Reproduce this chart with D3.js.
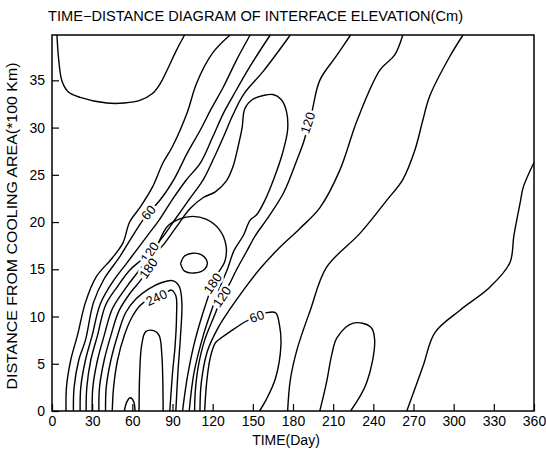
<!DOCTYPE html>
<html>
<head>
<script src="https://d3js.org/d3.v7.min.js"></script>
<style>
  body { margin: 0; background: #fff; }
  text { font-family: "Liberation Sans", Arial, sans-serif; fill: #000; }
</style>
</head>
<body>
<div id="chart"></div>
<script>
// axis ticks
const timeTicks = [0, 30, 60, 90, 120, 150, 180, 210, 240, 270, 300, 330, 360];
const distTicks = [0, 5, 10, 15, 20, 25, 30, 35];

// contour lines as [day, distance]
const cornerLine = [[3.7,39.8],[5,37.2],[7.5,34.9],[12,33.8],[21,33.2],[41,32.6],[54,32.6],[66,32.9],[75,33.6],[81,34.7],[86,36.1],[93,38.2],[99,39.8]];

const level30 = [
  [[10.5,0],[10.8,2.5],[14,5.4],[19,8],[25,11.5],[33,14.2],[45,16.2],[53,17.8],[58,20],[66,21.6],[75,23.7],[83,26.3],[90,28],[101,31.6],[108,34.7],[120,37.9],[133,39.8]],
  [[360,26.3],[352,23.7],[350,22.3],[345,18.6],[342,15.7],[327,13.1],[305,10.7],[286,8.3],[277,4.7],[265,0]]
];
const level60 = [
  [[16,0],[16.5,2.5],[20,5.4],[25,7.5],[31,11.5],[39,14],[50,16.2],[57,17.8],[65,19.6],[72,21],[80,22.2],[91,24.5],[101,27.3],[111,29.8],[119,32],[128,34.3],[138,37.2],[148,39.8]],
  [[307,39.8],[297,37.5],[282,33.3],[277,30.8],[271,27.6],[262,24.5],[250,22.3],[230,18.8],[205,15.2],[193,10.7],[183,6.5],[178,3.3],[176,0]],
  [[114,0],[115.5,3],[118,5.5],[122,7.2],[127,7.8],[133,8.4],[145,9.5],[153,10],[160,10.4],[167,10.4],[170,9],[171,7],[167,3.5],[160,1.2],[155,0]],
  [[200,0],[205,3],[209,6],[213,7.8],[225,9.3],[238,8.9],[241,7.5],[235,3],[223,0]]
];
const level90 = [
  [[21,0],[21.5,2.5],[25,5.4],[30,8],[36,11.3],[45,13.6],[55,15.5],[63,17],[72,18.7],[80,20.2],[90,22.4],[100,24.4],[111,26.3],[120,29],[128,31.5],[135,33.3],[148,36.5],[163,39.8]],
  [[262,39.8],[256,37.7],[245,36.1],[228,30.8],[215,25.5],[200,21.5],[185,19.3],[170,17.3],[155,15],[143,12.8],[133,10.8],[124,8.8],[116,6.3],[111.5,3],[110.5,0]]
];
const level120 = [
  [[25.5,0],[26,2.5],[29,5.4],[34,8],[40,11.2],[49,13.2],[58,14.9],[66,15.9],[73,16.8],[82,18.3],[92,20.3],[103,22.5],[113,24.5],[121,26.8],[128,29],[135,31.3],[143,33.5],[158,36],[178,39.8]],
  [[223,39.8],[212,37.5],[200,35],[194,31.6],[188,28.5],[183,26.6],[173,23.1],[160,20.2],[152,18.6],[145,16.8],[138,15],[132,13.3],[127,12.1],[121,10],[114,7.5],[109,4.5],[107,2],[106.5,0]]
];
const level150 = [
  [[30,0],[30.5,2.5],[34,5.4],[39,8],[45,10.8],[54,12.8],[63,14.5],[72,16],[82,17.4],[92,19.3],[103,21.4],[113,22.6],[122,23.2],[130,24.3],[135,25.8],[139,28],[142,30],[144,32],[150,33],[158,33.4],[165,33.5],[171,33],[175,31.8],[176,29.8],[172,27.2],[166,24.7],[159,22.3],[153,20.8],[148,20.2],[143,18.6],[136,17],[131,15],[126,13.3],[120,11],[113,8],[106,4],[102.5,0]]
];
const level180 = [
  [[35,0],[35.5,2.5],[39,5.4],[44,8],[50,10.6],[59,12.6],[66,13.8],[72,15.1],[79,17.6],[86,19.5],[95,20.3],[105,20.6],[115,20.3],[125,19.2],[130,17.5],[129,15.8],[124,14.6],[120,13.4],[113,10.5],[106,7],[101,3.5],[97.5,0]]
];
const level210 = [
  [[40,0],[40.5,2.5],[44,5.4],[49,8],[55,10.4],[63,11.9],[72,12.9],[82,13.6],[90,13.8],[95,13.2],[97,11.5],[96,8],[94,4],[92.5,0]],
  [[96,15.6],[99,16.4],[105,16.7],[112,16.5],[116,15.7],[114,15],[106,14.6],[99,14.8],[96,15.6]]
];
const level240 = [
  [[45,0],[46,2.5],[49,5.4],[54,8],[60,10],[66,11.2],[72,11.8],[84,12.4],[89,12.8],[92.5,12.2],[93,10],[92,7],[90,4],[88,0]]
];
const level270 = [
  [[65,0],[65.5,4],[67,7],[70,8.4],[76,8.5],[80,8],[82,6],[83,0]],
  [[54,0],[56,1],[58.5,1.4],[61,1],[62,0]]
];

// labels on the lines: text, day, distance, angle
const contourLabels = [
  ["60", 72, 21, -50], ["120", 73, 16.8, -55], ["180", 72, 15.1, -55], ["240", 78, 12, -25],
  ["180", 120, 13.5, -55], ["120", 127, 12.1, -55], ["60", 153, 10, -20], ["120", 191, 30.5, -72]
];

const W = 546, H = 450;
const margin = { top: 35, right: 12, bottom: 39, left: 52 };

const svg = d3.select("#chart").append("svg")
  .attr("width", W).attr("height", H);

const x = d3.scaleLinear().domain([0, 360]).range([margin.left, W - margin.right]);
const y = d3.scaleLinear().domain([0, 39.8]).range([H - margin.bottom, margin.top]);

// title
svg.append("text")
  .attr("x", 48).attr("y", 21)
  .attr("font-size", 14)
  .attr("textLength", 415).attr("lengthAdjust", "spacingAndGlyphs")
  .text("TIME\u2212DISTANCE DIAGRAM OF INTERFACE ELEVATION(Cm)");

// contour lines
const line = d3.line()
  .x(d => x(d[0]))
  .y(d => y(d[1]))
  .curve(d3.curveCatmullRom.alpha(0.5));

const plot = svg.append("g");
const allLines = [cornerLine].concat(level30, level60, level90, level120, level150, level180, level210, level240, level270);
plot.selectAll("path.c")
  .data(allLines)
  .enter()
  .append("path")
  .attr("class", "c")
  .attr("d", line)
  .attr("fill", "none")
  .attr("stroke", "#000")
  .attr("stroke-width", 1.4);

// labels with white gap
plot.selectAll("text.lab")
  .data(contourLabels)
  .enter()
  .append("text")
  .attr("class", "lab")
  .attr("transform", d => `translate(${x(d[1])},${y(d[2])}) rotate(${d[3]})`)
  .attr("text-anchor", "middle")
  .attr("dy", "0.35em")
  .attr("font-size", 13)
  .attr("stroke", "#fff").attr("stroke-width", 5)
  .attr("paint-order", "stroke")
  .text(d => d[0]);

// frame
svg.append("rect")
  .attr("x", x(0)).attr("y", y(39.8))
  .attr("width", x(360) - x(0)).attr("height", y(0) - y(39.8))
  .attr("fill", "none").attr("stroke", "#000").attr("stroke-width", 1.5);

// axes with inward ticks
const xAxis = svg.append("g")
  .attr("transform", `translate(0,${y(0)})`)
  .call(d3.axisBottom(x).tickValues(timeTicks).tickSizeInner(-7).tickSizeOuter(0).tickPadding(5));
const yAxis = svg.append("g")
  .attr("transform", `translate(${x(0)},0)`)
  .call(d3.axisLeft(y).tickValues(distTicks).tickSizeInner(-7).tickSizeOuter(0).tickPadding(7));
[xAxis, yAxis].forEach(g => {
  g.select(".domain").remove();
  g.selectAll("line").attr("stroke", "#000").attr("stroke-width", 1.2);
  g.selectAll("text").attr("font-size", 14).attr("font-family", "Liberation Sans, Arial, sans-serif");
});

// axis titles
svg.append("text")
  .attr("x", 286).attr("y", 445)
  .attr("text-anchor", "middle").attr("font-size", 14)
  .text("TIME(Day)");
svg.append("text")
  .attr("transform", "translate(17,226) rotate(-90)")
  .attr("text-anchor", "middle").attr("font-size", 14)
  .attr("textLength", 327).attr("lengthAdjust", "spacingAndGlyphs")
  .text("DISTANCE FROM COOLING AREA(*100 Km)");
</script>
</body>
</html>
